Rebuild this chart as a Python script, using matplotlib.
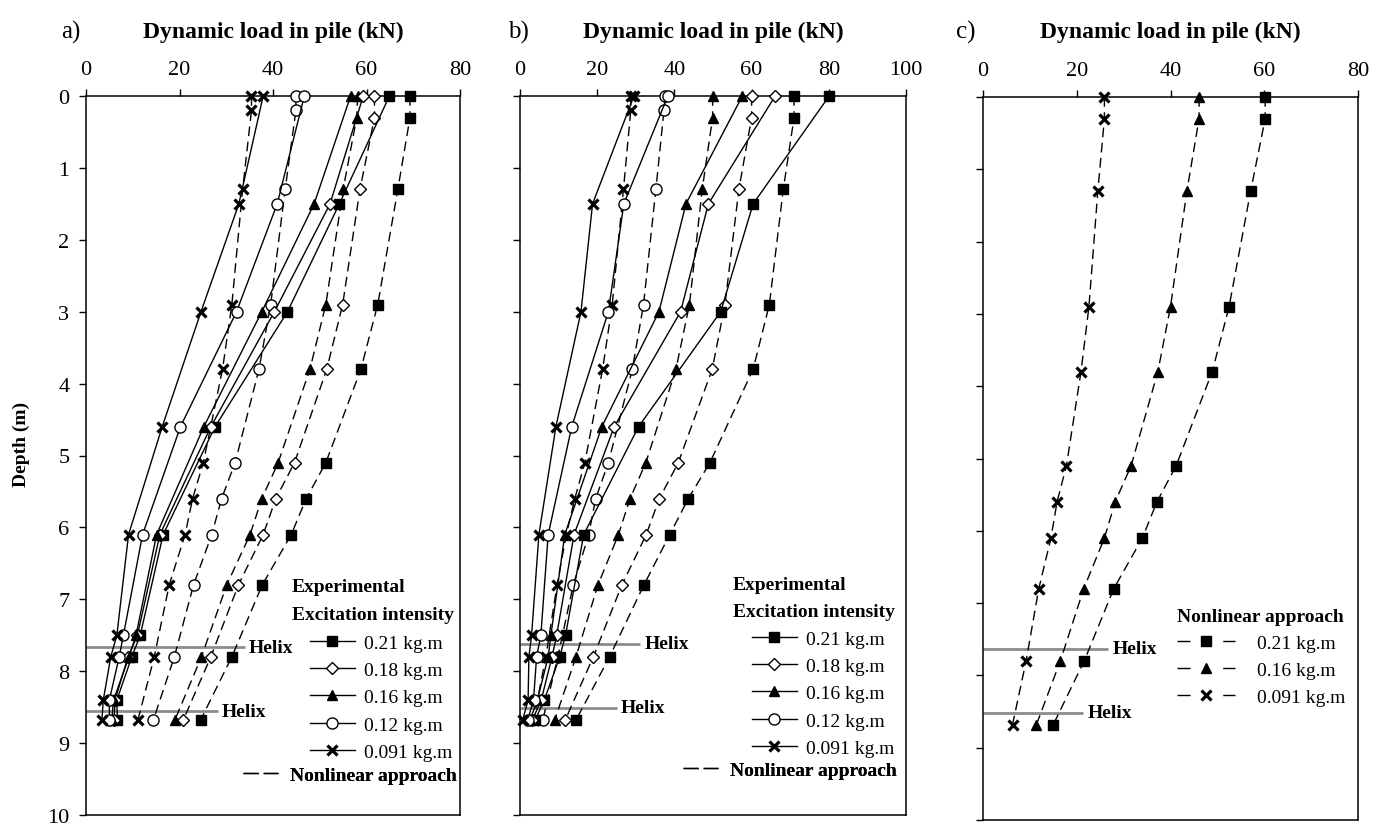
import matplotlib
matplotlib.use("Agg")
import matplotlib.pyplot as plt
from matplotlib.lines import Line2D

plt.rcParams['font.family'] = ['Liberation Serif', 'DejaVu Serif']

# ---------------- data ----------------
intensities = ["0.21 kg.m", "0.18 kg.m", "0.16 kg.m", "0.12 kg.m", "0.091 kg.m"]

exp_depth = [0, 1.5, 3.0, 4.6, 6.1, 7.5, 7.8, 8.4, 8.68]
nl_depth = [0, 0.3, 1.3, 2.9, 3.8, 5.1, 5.6, 6.1, 6.8, 7.8, 8.68]
nl_depth_b = [0, 0.2, 1.3, 2.9, 3.8, 5.1, 5.6, 6.1, 6.8, 7.8, 8.68]

# panel a
a_exp_021 = [64.9, 54.2, 43.1, 27.6, 16.5, 11.6, 9.8, 6.6, 6.7]
a_exp_018 = [59.3, 52.2, 40.3, 26.7, 15.8, 11.0, 9.0, 6.2, 6.0]
a_exp_016 = [56.6, 48.8, 37.6, 25.2, 15.1, 10.7, 9.2, 5.9, 5.5]
a_exp_012 = [46.7, 40.9, 32.2, 20.2, 12.1, 8.0, 7.1, 5.0, 5.0]
a_exp_0091 = [37.9, 32.7, 24.6, 16.3, 9.1, 6.6, 5.3, 3.7, 3.4]

a_nl_021 = [69.3, 69.3, 66.7, 62.4, 58.8, 51.3, 47.1, 43.9, 37.7, 31.2, 24.5]
a_nl_018 = [61.7, 61.7, 58.6, 54.9, 51.5, 44.6, 40.6, 37.9, 32.6, 26.7, 20.8]
a_nl_016 = [58.1, 57.9, 55.0, 51.3, 47.9, 41.1, 37.6, 35.1, 30.1, 24.7, 19.0]
a_nl_012 = [44.9, 44.9, 42.6, 39.5, 37.0, 31.9, 29.0, 26.9, 23.0, 18.9, 14.4]
a_nl_0091 = [35.4, 35.4, 33.5, 31.2, 29.2, 25.1, 22.8, 21.2, 17.8, 14.6, 11.1]

# panel b
b_exp_021 = [80.1, 60.4, 52.0, 30.7, 16.5, 11.8, 10.3, 6.3, 3.9]
b_exp_018 = [66.1, 48.8, 41.6, 24.4, 14.0, 9.5, 8.3, 5.5, 3.2]
b_exp_016 = [57.6, 43.0, 36.0, 21.2, 11.6, 8.0, 7.3, 4.5, 2.6]
b_exp_012 = [38.3, 26.9, 22.9, 13.4, 7.3, 5.4, 4.3, 3.5, 2.0]
b_exp_0091 = [29.5, 18.8, 15.8, 9.3, 4.9, 3.0, 2.3, 2.1, 0.7]

b_nl_021 = [71.0, 71.0, 68.2, 64.6, 60.4, 49.2, 43.6, 38.8, 32.1, 23.2, 14.5]
b_nl_018 = [60.0, 60.0, 56.7, 53.1, 49.8, 41.0, 36.1, 32.7, 26.4, 19.0, 11.7]
b_nl_016 = [49.9, 49.9, 47.2, 43.9, 40.4, 32.6, 28.5, 25.5, 20.2, 14.5, 9.0]
b_nl_012 = [37.6, 37.3, 35.2, 32.0, 29.1, 22.9, 19.6, 17.8, 13.8, 9.8, 5.9]
b_nl_0091 = [28.7, 28.7, 26.8, 23.9, 21.4, 16.8, 14.2, 12.0, 9.6, 6.7, 3.5]

# panel c (nonlinear approach only)
c_intensities = ["0.21 kg.m", "0.16 kg.m", "0.091 kg.m"]
c_nl_021 = [60.2, 60.2, 57.1, 52.5, 48.9, 41.2, 37.1, 34.0, 27.9, 21.6, 15.0]
c_nl_016 = [46.1, 46.1, 43.5, 40.0, 37.3, 31.6, 28.2, 25.9, 21.5, 16.5, 11.4]
c_nl_0091 = [25.9, 25.9, 24.5, 22.6, 20.9, 17.8, 15.8, 14.5, 11.9, 9.2, 6.3]

# helix positions (depth, line end load) per panel
helix_a = [(7.67, 34.0), (8.56, 28.2)]
helix_b = [(7.62, 31.1), (8.51, 25.1)]
helix_c = [(7.63, 26.7), (8.52, 21.4)]

panel_labels = ["a)", "b)", "c)"]
title = "Dynamic load in pile (kN)"
xmax = [80, 100, 80]

# ---------------- styles ----------------
mstyle = {
    "0.21 kg.m": dict(marker='s', mfc='black', mec='black', ms=7, mew=1.0),
    "0.18 kg.m": dict(marker='D', mfc='white', mec='black', ms=6.5, mew=1.0),
    "0.16 kg.m": dict(marker='^', mfc='black', mec='black', ms=7.5, mew=1.0),
    "0.12 kg.m": dict(marker='o', mfc='white', mec='black', ms=8, mew=1.0),
    "0.091 kg.m": dict(marker='x', mfc='black', mec='black', ms=6.5, mew=2.3),
}
DASH = (7, 4)
HELIX_COLOR = '#8c8c8c'
FS = 14
TICK_FS = 16

W, H = 1381, 828
fig = plt.figure(figsize=(W / 100, H / 100), dpi=100)


def rect(l, r, t, b):
    return [l / W, 1 - b / H, (r - l) / W, (b - t) / H]


ax_a = fig.add_axes(rect(86, 460, 97, 816))
ax_b = fig.add_axes(rect(520, 906, 97, 816))
ax_c = fig.add_axes(rect(983, 1358, 98, 821))
axes = [ax_a, ax_b, ax_c]

for i, ax in enumerate(axes):
    ax.set_xlim(0, xmax[i])
    ax.set_ylim(10, 0)
    ax.xaxis.tick_top()
    ax.set_xticks(range(0, xmax[i] + 1, 20))
    ax.set_yticks(range(0, 11))
    ax.tick_params(axis='both', direction='out', length=5, width=1.0,
                   labelsize=TICK_FS, top=True, bottom=False, right=False, left=True)
    ax.tick_params(axis='x', pad=7)
    ax.tick_params(axis='y', pad=7)
    if i > 0:
        ax.set_yticklabels([])
    for s in ax.spines.values():
        s.set_linewidth(1.1)

# experimental & nonlinear series
a_exp = [a_exp_021, a_exp_018, a_exp_016, a_exp_012, a_exp_0091]
a_nl = [a_nl_021, a_nl_018, a_nl_016, a_nl_012, a_nl_0091]
b_exp = [b_exp_021, b_exp_018, b_exp_016, b_exp_012, b_exp_0091]
b_nl = [b_nl_021, b_nl_018, b_nl_016, b_nl_012, b_nl_0091]
c_nl = [c_nl_021, c_nl_016, c_nl_0091]

for ax, exps, nls in [(ax_a, a_exp, a_nl), (ax_b, b_exp, b_nl)]:
    for lab, xe, xn in zip(intensities, exps, nls):
        dep_n = nl_depth_b if lab in ("0.12 kg.m", "0.091 kg.m") else nl_depth
        ax.plot(xn, dep_n, color='black', lw=1.0, dashes=DASH, zorder=3, clip_on=False,
                **mstyle[lab])
        ax.plot(xe, exp_depth, color='black', lw=1.0, zorder=4, clip_on=False,
                **mstyle[lab])

for lab, xn in zip(c_intensities, c_nl):
    ax_c.plot(xn, nl_depth, color='black', lw=1.0, dashes=DASH, zorder=3, clip_on=False,
              **mstyle[lab])

# helix lines
for ax, hel in [(ax_a, helix_a), (ax_b, helix_b), (ax_c, helix_c)]:
    for d, xe in hel:
        ax.plot([0, xe], [d, d], color=HELIX_COLOR, lw=2.0, zorder=2, solid_capstyle='butt')
        ax.annotate("Helix", xy=(xe, d), xytext=(3, 0), textcoords='offset points',
                    ha='left', va='center', fontsize=FS, fontweight='bold')

# titles
label_offsets = [-15, -2, -17]
for ax, pl, off in zip(axes, panel_labels, label_offsets):
    bb = ax.get_position()
    fig.text(bb.x0 + off / W, 1 - 32 / H, pl, ha='center', va='center', fontsize=18)
    fig.text(bb.x0 + bb.width / 2, 1 - 32 / H, title, ha='center', va='center',
             fontsize=17, fontweight='bold')

fig.text(21 / W, 1 - 444 / H, "Depth (m)", rotation=90, ha='center', va='center',
         fontsize=14, fontweight='bold')

# legends for panels a and b
def exp_legend(ax, x_title, y_title1, x_handle, y_top, x_nl, y_nl):
    fig.text(x_title / W, 1 - y_title1 / H, "Experimental", ha='left', va='center',
             fontsize=FS, fontweight='bold')
    fig.text(x_title / W, 1 - (y_title1 + 28) / H, "Excitation intensity", ha='left',
             va='center', fontsize=FS, fontweight='bold')
    handles = [Line2D([], [], color='black', lw=1.0, **mstyle[l]) for l in intensities]
    leg = ax.legend(handles, intensities, loc='upper left',
                    bbox_to_anchor=(x_handle / W, 1 - y_top / H),
                    bbox_transform=fig.transFigure, frameon=False, fontsize=FS,
                    handlelength=2.3, handletextpad=0.5, labelspacing=0.5,
                    borderpad=0, borderaxespad=0, numpoints=1)
    ax.add_artist(leg)
    nl_handle = Line2D([], [], color='black', lw=1.0, dashes=(11, 3.5))
    leg2 = ax.legend([nl_handle], ["Nonlinear approach"], loc='upper left',
                     bbox_to_anchor=(x_nl / W, 1 - y_nl / H),
                     bbox_transform=fig.transFigure, frameon=False,
                     prop=dict(size=FS, weight='bold'),
                     handlelength=1.8, handletextpad=0.6, borderpad=0, borderaxespad=0)
    ax.add_artist(leg2)


exp_legend(ax_a, 292, 588, 310, 635, 243, 767)
exp_legend(ax_b, 733, 585, 752, 631, 683, 762)

# legend for panel c
fig.text(1177 / W, 1 - 618 / H, "Nonlinear approach", ha='left', va='center',
         fontsize=FS, fontweight='bold')
c_handles = [Line2D([], [], color='black', lw=1.0, dashes=(9.4, 23.5), **mstyle[l])
             for l in c_intensities]
legc = ax_c.legend(c_handles, c_intensities, loc='upper left',
                   bbox_to_anchor=(1177 / W, 1 - 635 / H), bbox_transform=fig.transFigure,
                   frameon=False, fontsize=FS, handlelength=3.0, handletextpad=1.1,
                   labelspacing=0.5, borderpad=0, borderaxespad=0, numpoints=1)

fig.savefig("out.png", dpi=100)
